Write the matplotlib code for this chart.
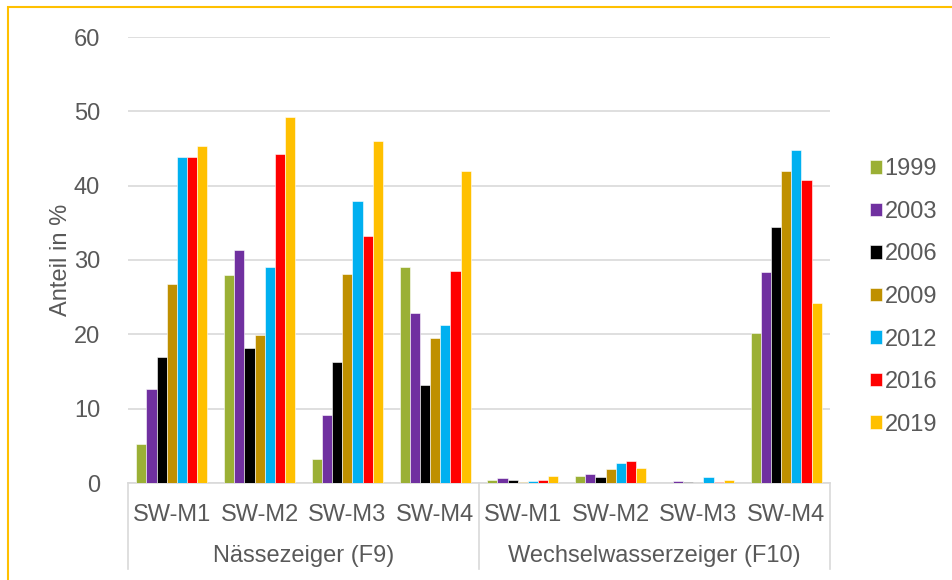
import numpy as np
import matplotlib.pyplot as plt
from matplotlib.transforms import blended_transform_factory

plt.rcParams['font.family'] = ['Liberation Sans', 'DejaVu Sans']

groups = ['Nässezeiger (F9)', 'Wechselwasserzeiger (F10)']
sites = ['SW-M1', 'SW-M2', 'SW-M3', 'SW-M4']
years = ['1999', '2003', '2006', '2009', '2012', '2016', '2019']
colors = ['#9BB035', '#7030A0', '#000000', '#BF9000', '#00B0F0', '#FF0000', '#FFC000']

# values per year: F9 SW-M1..M4, then F10 SW-M1..M4
v1999 = [5.2, 28.0, 3.2, 29.0, 0.4, 0.9, 0.05, 20.2]
v2003 = [12.7, 31.4, 9.1, 22.9, 0.7, 1.25, 0.3, 28.4]
v2006 = [16.9, 18.2, 16.3, 13.2, 0.35, 0.8, 0.2, 34.4]
v2009 = [26.8, 19.9, 28.1, 19.5, 0.2, 1.9, 0.0, 42.0]
v2012 = [43.8, 29.1, 37.9, 21.3, 0.3, 2.7, 0.75, 44.8]
v2016 = [43.9, 44.2, 33.2, 28.5, 0.35, 2.95, 0.2, 40.8]
v2019 = [45.3, 49.2, 46.0, 42.0, 1.0, 2.0, 0.4, 24.2]
series = [v1999, v2003, v2006, v2009, v2012, v2016, v2019]

text_col = '#595959'
grid_col = '#D9D9D9'
fs = 17

fig = plt.figure(figsize=(9.53, 5.80), dpi=100)
ax = fig.add_axes([128 / 953, 97 / 580, 702 / 953, 446 / 580])

x = np.arange(len(groups) * len(sites))
bw = 0.81 / len(years)
for i, (yr, vals, c) in enumerate(zip(years, series, colors)):
    ax.bar(x - 0.405 + bw * (i + 0.5), vals, width=bw, color=c, label=yr,
           edgecolor='white', linewidth=0.4, zorder=3)

ax.set_xlim(-0.5, len(x) - 0.5)
ax.set_ylim(0, 60)
ax.set_yticks(range(0, 61, 10))
ax.yaxis.grid(True, color=grid_col, linewidth=1.2, zorder=0)
ax.tick_params(axis='y', length=0, pad=20, labelsize=fs, labelcolor=text_col)
for s in ['top', 'right', 'left']:
    ax.spines[s].set_visible(False)
ax.spines['bottom'].set_color(grid_col)
ax.spines['bottom'].set_linewidth(1.2)
ax.set_ylabel('Anteil in %', fontsize=fs, color=text_col, labelpad=1)

# two-level category axis
ax.set_xticks(x)
ax.set_xticklabels(sites * len(groups))
ax.tick_params(axis='x', length=0, pad=15, labelsize=fs, labelcolor=text_col)
trans = blended_transform_factory(ax.transData, ax.transAxes)
for sep in [-0.5, 3.5, 7.5]:
    ax.plot([sep, sep], [0, -86 / 446], transform=trans, color=grid_col,
            linewidth=1.2, clip_on=False)
for gi, g in enumerate(groups):
    ax.text(gi * 4 + 1.5, -73 / 446, g, transform=trans, ha='center',
            va='center', fontsize=fs, color=text_col)

leg = ax.legend(loc='center left', bbox_to_anchor=(870 / 953, 0.488),
                bbox_transform=fig.transFigure, frameon=False, fontsize=fs,
                handlelength=0.5, handleheight=0.5, handletextpad=0.12,
                labelspacing=0.87, borderpad=0, borderaxespad=0)
for t in leg.get_texts():
    t.set_color(text_col)

# chart frame
fig.add_artist(plt.Rectangle((8 / 953, -0.1), 1.2, 1.1 - 7 / 580, fill=False,
                             edgecolor='#FFC000', linewidth=1.5,
                             transform=fig.transFigure))

fig.savefig('out.png', dpi=100)
